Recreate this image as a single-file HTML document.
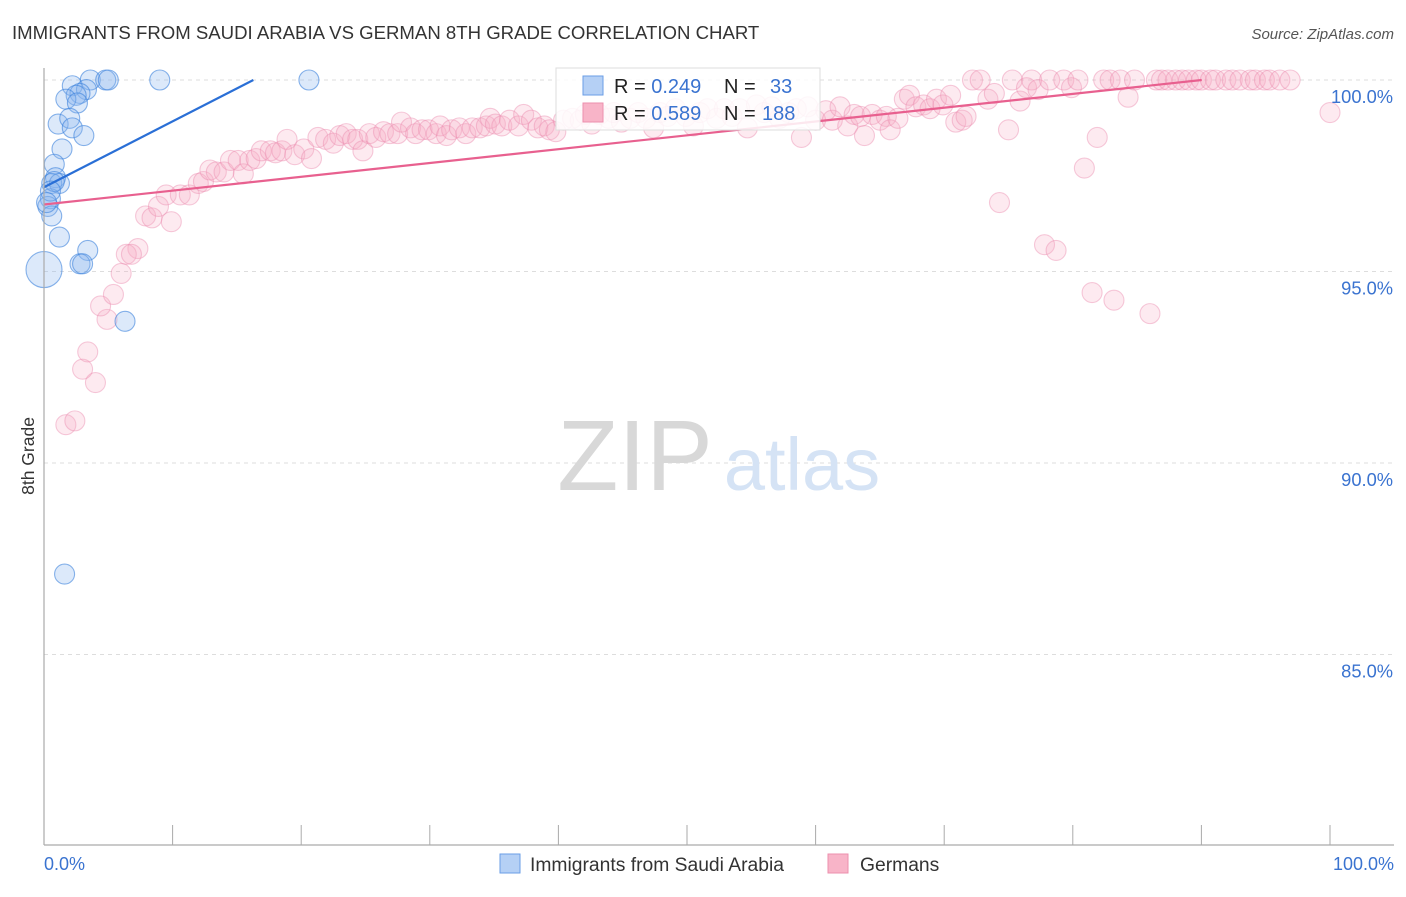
<!DOCTYPE html>
<html><head><meta charset="utf-8"><style>
body{margin:0;background:#fff;font-family:"Liberation Sans",sans-serif}
svg text{font-family:"Liberation Sans",sans-serif}
</style></head><body>
<svg id="chart" width="1406" height="892" xmlns="http://www.w3.org/2000/svg">
<text x="12" y="39" font-size="18.6" fill="#333">IMMIGRANTS FROM SAUDI ARABIA VS GERMAN 8TH GRADE CORRELATION CHART</text>
<text x="1394" y="39" font-size="15" fill="#555" text-anchor="end" font-style="italic">Source: ZipAtlas.com</text>
<g id="grid"></g>
<g>
<text x="635" y="490" font-size="100" fill="#d8d8d8" font-family="Liberation Serif,serif" text-anchor="middle">ZIP</text>
<text x="802" y="490" font-size="74" fill="#d5e3f5" text-anchor="middle">atlas</text>
</g>
<g id="pts"></g>
<g id="lines"></g>
<line x1="44" y1="68" x2="44" y2="845" stroke="#aaa" stroke-width="1.2"/>
<line x1="44" y1="845" x2="1394" y2="845" stroke="#aaa" stroke-width="1.2"/>
<g id="ticks"></g>
<text transform="translate(34,456) rotate(-90)" font-size="17.5" fill="#333" text-anchor="middle">8th Grade</text>
<text x="44" y="870" font-size="18" fill="#3a73d0">0.0%</text>
<text x="1394" y="870" font-size="18" fill="#3a73d0" text-anchor="end">100.0%</text>
<g>
<rect x="556" y="68" width="264" height="62" fill="#fff" fill-opacity="0.85" stroke="#ddd"/>
<rect x="583" y="76" width="20" height="19" fill="#b5d0f5" stroke="#6a9ee6"/>
<rect x="583" y="103" width="20" height="19" fill="#f8b4c8" stroke="#ec8fae"/>
<text x="614" y="93" font-size="20" fill="#222">R = <tspan fill="#3a73d0">0.249</tspan><tspan x="724">N =</tspan><tspan x="770" fill="#3a73d0">33</tspan></text>
<text x="614" y="120" font-size="20" fill="#222">R = <tspan fill="#3a73d0">0.589</tspan><tspan x="724">N =</tspan><tspan x="762" fill="#3a73d0">188</tspan></text>
</g>
<g>
<rect x="500" y="854" width="20" height="19" fill="#b5d0f5" stroke="#6a9ee6"/>
<text x="530" y="871" font-size="19.3" fill="#333">Immigrants from Saudi Arabia</text>
<rect x="828" y="854" width="20" height="19" fill="#f8b4c8" stroke="#ec8fae"/>
<text x="860" y="871" font-size="19.3" fill="#333">Germans</text>
</g>
</svg>
<script>
const yTicks=[100,95,90,85];
const yTickLabels=["100.0%","95.0%","90.0%","85.0%"];
const xTicks=[0,10,20,30,40,50,60,70,80,90,100];
const blueX=[2.2,3.6,4.8,5.0,9.0,20.6,3.3,2.8,2.5,1.7,2.6,1.1,2.0,2.2,3.1,1.4,0.8,0.9,0.6,1.2,0.5,0.3,0.6,1.2,3.4,2.8,3.0,0.0,6.3,1.6,0.8,0.5,0.2];
const blueY=[99.85,100,100,100,100,100,99.75,99.65,99.6,99.5,99.4,98.85,99.0,98.75,98.55,98.2,97.8,97.45,97.3,97.3,96.9,96.7,96.45,95.9,95.55,95.2,95.2,95.05,93.7,87.1,97.35,97.1,96.8];
const blueR=[10,10,10,10,10,10,10,10,10,10,10,10,10,10,10,10,10,10,10,10,10,10,10,10,10,10,10,18,10,10,10,10,10];
const pinkX=[1.7,2.4,4.0,3.0,3.4,4.9,4.4,5.4,6.0,7.3,6.4,6.8,7.9,8.4,9.9,8.9,9.5,10.6,11.3,12.0,12.4,12.9,13.4,14.0,14.5,15.1,15.5,16.0,16.5,16.9,17.6,18.0,18.5,18.9,19.5,20.2,20.8,21.3,21.9,22.5,23.0,23.5,24.0,24.4,24.8,25.3,25.8,26.4,26.9,27.5,27.8,28.5,28.9,29.4,29.9,30.5,30.8,31.3,31.7,32.3,32.8,33.3,33.9,34.4,34.7,35.1,35.6,36.2,36.9,37.3,37.9,38.4,38.9,39.3,39.8,40.4,41.1,41.7,42.1,42.6,43.2,43.9,44.3,44.9,45.6,46.2,46.8,47.4,47.9,48.5,49.1,49.9,50.5,51.0,51.6,52.3,52.9,53.5,54.1,54.7,55.4,56.0,56.6,57.2,57.9,58.5,58.9,59.4,60.0,60.8,61.3,61.9,62.5,63.0,63.5,63.8,64.4,65.0,65.5,65.8,66.4,66.9,67.3,67.8,68.4,68.9,69.4,69.9,70.5,70.9,71.4,71.7,72.2,72.8,73.4,73.9,74.3,75.0,75.3,75.9,76.4,76.8,77.3,77.8,78.2,78.7,79.3,79.9,80.4,80.9,81.5,81.9,82.4,82.9,83.2,83.7,84.3,84.8,86.0,86.5,86.9,87.4,88.0,88.5,89.0,89.6,90.0,90.7,91.1,91.9,92.4,93.0,93.8,94.2,94.9,95.3,96.1,96.9,100];
const pinkY=[91.0,91.1,92.1,92.45,92.9,93.75,94.1,94.4,94.95,95.6,95.45,95.45,96.45,96.4,96.3,96.7,97.0,97.0,97.0,97.3,97.35,97.65,97.6,97.6,97.9,97.9,97.55,97.9,97.95,98.15,98.15,98.1,98.15,98.45,98.05,98.2,97.95,98.5,98.45,98.35,98.55,98.6,98.45,98.45,98.15,98.6,98.5,98.65,98.6,98.6,98.9,98.75,98.6,98.7,98.7,98.6,98.8,98.55,98.7,98.75,98.6,98.75,98.75,98.8,99.0,98.85,98.8,98.95,98.8,99.1,98.95,98.75,98.8,98.7,98.65,98.95,99.0,98.95,99.1,98.85,99.1,99.0,99.15,98.9,99.0,99.15,99.0,98.75,99.15,99.05,99.25,99.05,98.8,99.15,99.25,99.0,99.25,99.05,99.25,98.75,99.35,99.15,99.3,99.0,99.15,99.25,98.5,99.3,98.95,99.2,98.95,99.3,98.8,99.1,99.05,98.55,99.1,98.95,99.05,98.7,99.0,99.5,99.6,99.3,99.35,99.25,99.5,99.35,99.6,98.9,98.95,99.05,100,100,99.5,99.65,96.8,98.7,100,99.45,99.8,100,99.75,95.7,100,95.55,100,99.8,100,97.7,94.45,98.5,100,100,94.25,100,99.55,100,93.9,100,100,100,100,100,100,100,100,100,100,100,100,100,100,100,100,100,100,100,99.15];
const trendNames=["saudi-trend-line","germans-trend-line"];
const trendIntercept=[97.2,96.75];
const trendSlope=[0.172,0.0361];
const trendColor=["#2a6fd6","#e8608f"];
const NS="http://www.w3.org/2000/svg";
const sx=v=>44+v*12.86;
const sy=v=>80+(100-v)*38.3;
function mk(t,a,p){const e=document.createElementNS(NS,t);for(const k in a)e.setAttribute(k,a[k]);p.appendChild(e);return e;}
const grid=document.getElementById('grid'),ticks=document.getElementById('ticks');
yTicks.forEach((v,i)=>{
 const l=mk('line',{x1:44,x2:1394,y1:sy(v),y2:sy(v),stroke:'#ddd','stroke-dasharray':'4,4'},grid);
 
 
 const t=mk('text',{x:1393,y:sy(v)+23,'font-size':18.3,fill:'#3a73d0','text-anchor':'end'},ticks);
 t.textContent=yTickLabels[i];
 
 
});
xTicks.forEach(v=>{
 const l=mk('line',{x1:sx(v),x2:sx(v),y1:825,y2:845,stroke:'#aaa'},ticks);
 
 
});
const pts=document.getElementById('pts');
pinkX.forEach((x,i)=>{
 const c=mk('circle',{cx:sx(x),cy:sy(pinkY[i]),r:10,fill:'rgba(248,170,196,0.25)',stroke:'rgba(236,140,175,0.45)','stroke-width':1.1},pts);
 
 
});
blueX.forEach((x,i)=>{
 const c=mk('circle',{cx:sx(x),cy:sy(blueY[i]),r:blueR[i],fill:'rgba(140,182,238,0.3)',stroke:'rgba(60,130,220,0.6)','stroke-width':1.1},pts);
 
 
});
const lines=document.getElementById('lines');
trendIntercept.forEach((b,i)=>{
 const m=trendSlope[i];let x2=Math.min(100,(100-b)/m);
 const l=mk('line',{x1:sx(0),y1:sy(b),x2:sx(x2),y2:sy(b+m*x2),stroke:trendColor[i],'stroke-width':2.2},lines);
 
 
});
</script>
</body></html>
